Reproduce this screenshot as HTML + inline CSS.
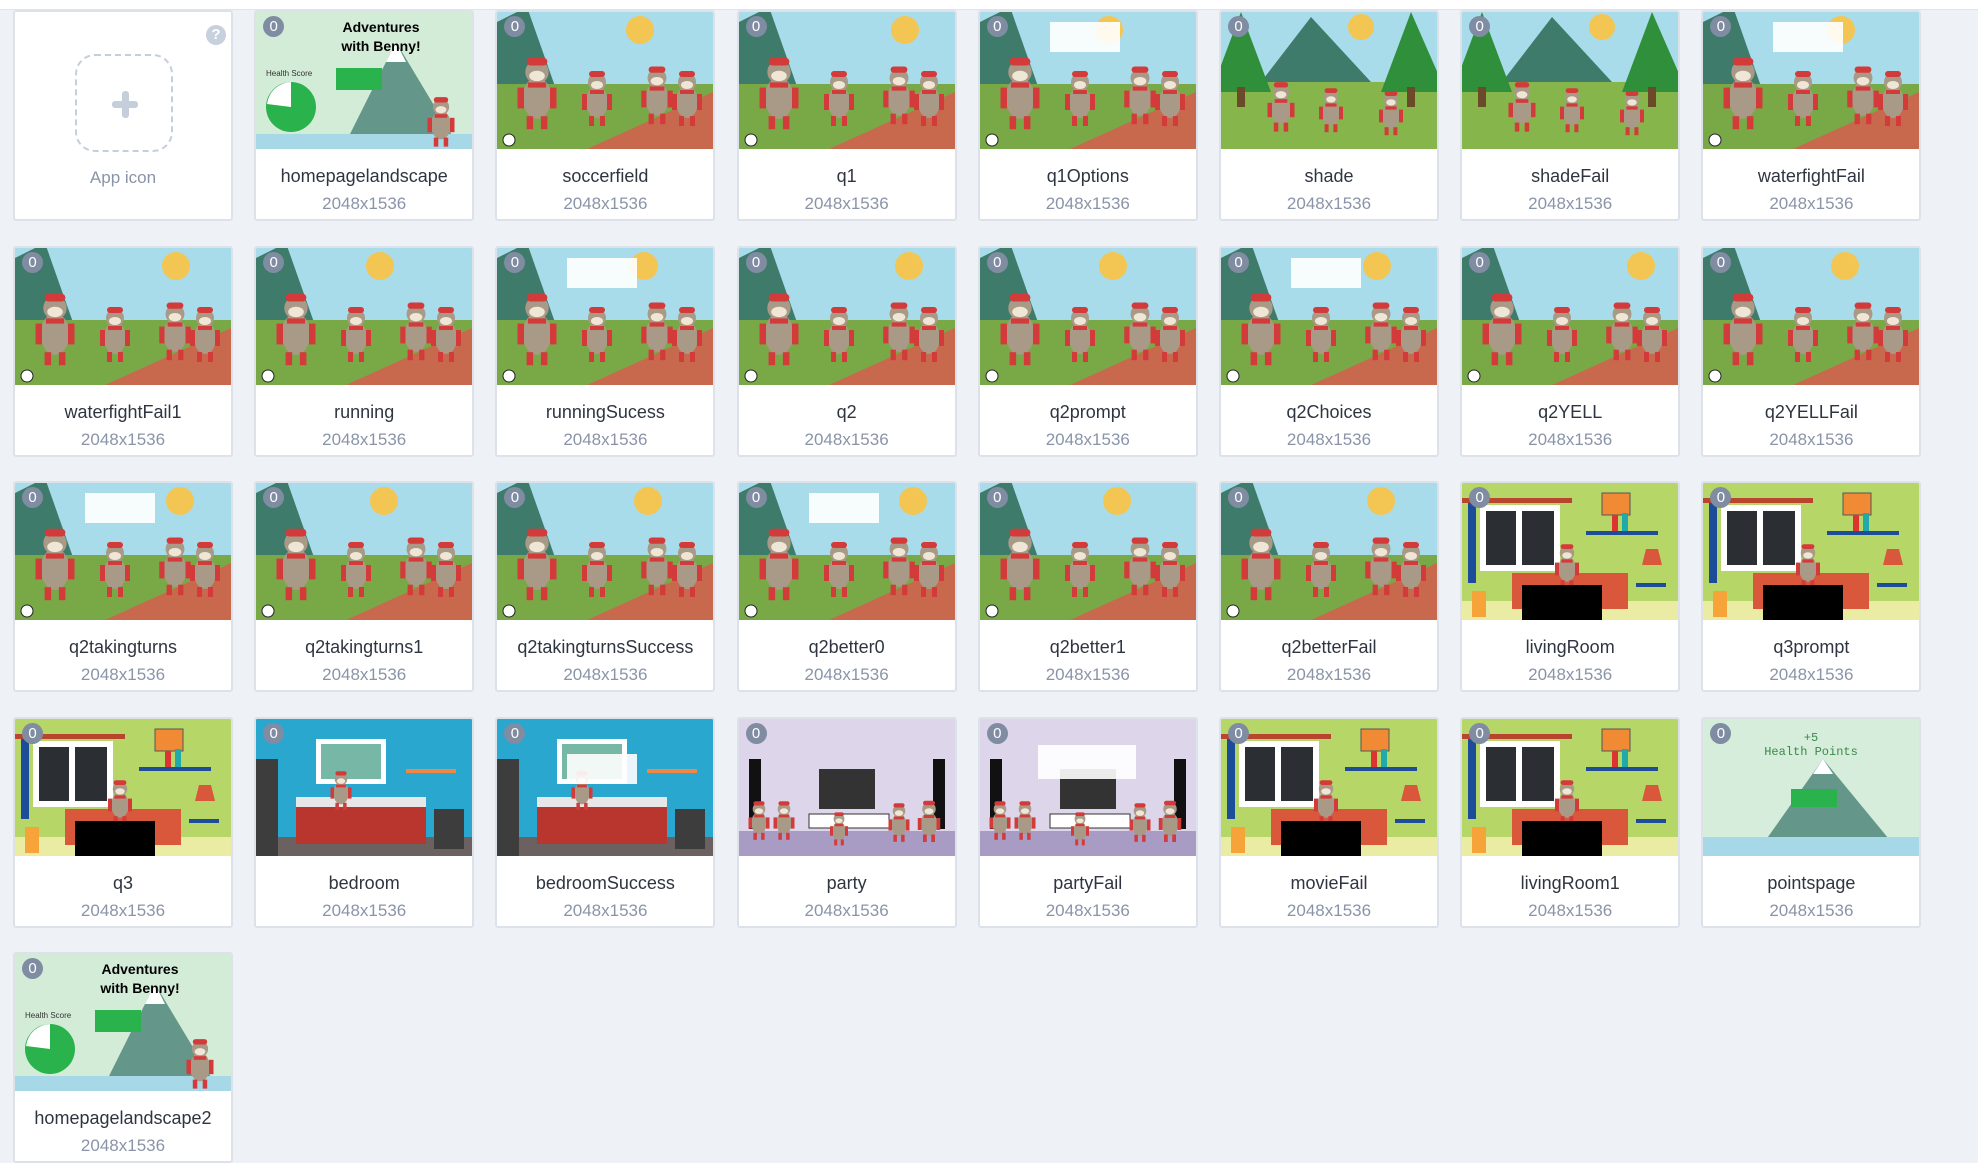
<!DOCTYPE html>
<html><head><meta charset="utf-8">
<style>
*{box-sizing:border-box;margin:0;padding:0}
html,body{width:1978px;height:1142px;overflow:hidden;background:#eef1f6;font-family:"Liberation Sans",sans-serif}
#topbar{position:absolute;left:0;top:0;width:1978px;height:10px;background:#fff;border-bottom:1px solid #dfe3ea}
.card{position:absolute;width:220px;height:211px;background:#fff;border:2px solid #dde2ea;border-radius:3px;overflow:hidden}
.thumb{position:absolute;left:0;top:0;width:216px;height:137px}
.title{position:absolute;left:0;width:216px;top:154px;text-align:center;font-size:18px;color:#2f3540}
.size{position:absolute;left:0;width:216px;top:182px;text-align:center;font-size:17px;color:#8a94a8}
.badge{position:absolute;left:7px;top:4px;width:21px;height:21px;border-radius:50%;background:#7f8ca2;color:#fff;font-size:15px;text-align:center;line-height:21px}
</style></head><body>
<div id="topbar"></div>
<div class="card" style="left:13px;top:10px">
  <div style="position:absolute;left:60px;top:42px;width:98px;height:98px;border:2px dashed #c5cfdc;border-radius:20px">
    <div style="position:absolute;left:35px;top:45px;width:26px;height:7px;background:#c5cfdc;border-radius:3px"></div>
    <div style="position:absolute;left:45px;top:35px;width:7px;height:27px;background:#c5cfdc;border-radius:3px"></div>
  </div>
  <div style="position:absolute;left:0;width:216px;top:156px;text-align:center;font-size:17px;color:#8a94a8">App icon</div>
  <div style="position:absolute;left:191px;top:13px;width:20px;height:20px;border-radius:50%;background:#c7d0dd;color:#fff;font-size:15px;font-weight:bold;text-align:center;line-height:20px">?</div>
</div>
<div id="grid"></div>
<script>
const names=["homepagelandscape","soccerfield","q1","q1Options","shade","shadeFail","waterfightFail",
"waterfightFail1","running","runningSucess","q2","q2prompt","q2Choices","q2YELL","q2YELLFail",
"q2takingturns","q2takingturns1","q2takingturnsSuccess","q2better0","q2better1","q2betterFail","livingRoom","q3prompt",
"q3","bedroom","bedroomSuccess","party","partyFail","movieFail","livingRoom1","pointspage",
"homepagelandscape2"];
const kinds=["home","field","field","field","forest","forest","field",
"field","field","field","field","field","field","field","field",
"field","field","field","field","field","field","room","room",
"room","bed","bed","party","party","room","room","points",
"home"];
const monkey=(x,y,s)=>`<g transform="translate(${x},${y}) scale(${s})"><ellipse cx="0" cy="20" rx="11" ry="16" fill="#a89a86"/><circle cx="0" cy="0" r="9" fill="#a89a86"/><ellipse cx="0" cy="3" rx="6" ry="4" fill="#efe6d6"/><rect x="-8" y="-11" width="16" height="6" rx="3" fill="#d33a3a"/><rect x="-7" y="8" width="14" height="4" fill="#d33a3a"/><rect x="-15" y="12" width="5" height="16" fill="#d33a3a"/><rect x="10" y="12" width="5" height="16" fill="#d33a3a"/><rect x="-8" y="34" width="5" height="10" fill="#d33a3a"/><rect x="3" y="34" width="5" height="10" fill="#d33a3a"/></g>`;
function scene(k,i){
 if(k==="field") return `<rect width="216" height="137" fill="#a9dcea"/><circle cx="${120+(i*23)%60}" cy="18" r="14" fill="#f3c552"/><polygon points="0,80 0,10 30,-5 60,80" fill="#3f7b6a"/><rect y="72" width="216" height="65" fill="#79a947"/><polygon points="90,137 216,80 216,137" fill="#c8694e"/><circle cx="12" cy="128" r="6" fill="#fff" stroke="#222"/>${monkey(40,60,1.3)}${monkey(100,70,1)}${monkey(160,66,1.05)}${monkey(190,70,1)}${i%3==0?'<rect x="70" y="10" width="70" height="30" fill="#fff" opacity="0.9"/>':''}`;
 if(k==="forest") return `<rect width="216" height="137" fill="#a9dcea"/><circle cx="140" cy="15" r="13" fill="#f3c552"/><polygon points="40,70 90,5 150,70" fill="#3f7b6a"/><rect y="70" width="216" height="67" fill="#86b64b"/><polygon points="20,0 50,80 -10,80" fill="#2f8f3a"/><polygon points="190,0 225,80 160,80" fill="#2f8f3a"/><rect x="16" y="75" width="8" height="20" fill="#6b4a2a"/><rect x="186" y="75" width="8" height="20" fill="#6b4a2a"/>${monkey(60,80,0.9)}${monkey(110,85,0.8)}${monkey(170,88,0.8)}`;
 if(k==="room") return `<rect width="216" height="137" fill="#b6d767"/><rect x="0" y="15" width="110" height="5" fill="#b8452e"/><rect x="6" y="20" width="8" height="80" fill="#1d4d99"/><rect x="18" y="22" width="80" height="66" fill="#fff"/><rect x="24" y="28" width="30" height="54" fill="#2b2f33"/><rect x="60" y="28" width="32" height="54" fill="#2b2f33"/><rect x="140" y="10" width="28" height="22" fill="#f18a34" stroke="#555"/><rect x="124" y="48" width="72" height="4" fill="#1d4d99"/><rect x="150" y="32" width="6" height="16" fill="#d33"/><rect x="160" y="30" width="6" height="18" fill="#2aa"/><rect y="118" width="216" height="19" fill="#e9eca2"/><rect x="50" y="90" width="116" height="36" fill="#d9573b"/>${monkey(105,70,0.8)}<rect x="60" y="102" width="80" height="35" fill="#000"/><rect x="10" y="108" width="14" height="26" fill="#f6a33a"/><polygon points="180,82 200,82 196,66 184,66" fill="#d9573b"/><rect x="174" y="100" width="30" height="4" fill="#1d4d99"/>`;
 if(k==="bed") return `<rect width="216" height="137" fill="#2aa7cf"/><rect y="118" width="216" height="19" fill="#6b6160"/><rect x="0" y="40" width="22" height="97" fill="#3d3d3d"/><rect x="60" y="20" width="70" height="45" fill="#fff"/><rect x="65" y="25" width="60" height="35" fill="#76b7a6"/><rect x="40" y="85" width="130" height="40" fill="#b8362d"/><rect x="40" y="78" width="130" height="10" fill="#e7e7e7"/><rect x="178" y="90" width="30" height="40" fill="#3d3d3d"/><rect x="150" y="50" width="50" height="4" fill="#e84"/>${monkey(85,60,0.7)}${i%2? '<rect x="70" y="35" width="70" height="30" fill="#fff" opacity="0.9"/>':''}`;
 if(k==="party") return `<rect width="216" height="137" fill="#ddd6ea"/><rect y="112" width="216" height="25" fill="#a99cc4"/><rect x="10" y="40" width="12" height="70" fill="#111"/><rect x="194" y="40" width="12" height="70" fill="#111"/><rect x="80" y="50" width="56" height="40" fill="#333"/><rect x="70" y="95" width="80" height="14" fill="#fff" stroke="#333"/>${monkey(20,90,0.7)}${monkey(45,90,0.7)}${monkey(100,100,0.6)}${monkey(160,92,0.7)}${monkey(190,90,0.75)}${i%2?'<rect x="58" y="26" width="98" height="34" fill="#fff" opacity="0.9"/>':''}`;
 if(k==="home") return `<rect width="216" height="137" fill="#d3ecd7"/><polygon points="90,130 140,30 200,130" fill="#64968a"/><polygon points="130,50 140,30 150,50" fill="#fff"/><rect y="122" width="216" height="15" fill="#a6d8e8"/><circle cx="35" cy="95" r="25" fill="#2ab24c"/><path d="M35 95 L35 70 A25 25 0 0 0 11 92 Z" fill="#fff"/><rect x="80" y="56" width="46" height="22" fill="#2ab24c"/><text x="125" y="20" font-size="14" font-weight="bold" text-anchor="middle" font-family="Liberation Sans,sans-serif">Adventures</text><text x="125" y="39" font-size="14" font-weight="bold" text-anchor="middle" font-family="Liberation Sans,sans-serif">with Benny!</text><text x="10" y="64" font-size="8" fill="#333" font-family="Liberation Sans,sans-serif">Health Score</text>${monkey(185,95,0.9)}`;
 return `<rect width="216" height="137" fill="#d6eddb"/><polygon points="60,125 120,40 190,125" fill="#64968a"/><polygon points="110,55 120,40 130,55" fill="#fff"/><rect y="118" width="216" height="19" fill="#a6d8e8"/><rect x="88" y="70" width="46" height="18" fill="#2ab24c"/><text x="108" y="22" font-size="12" fill="#3a8a4a" text-anchor="middle" font-family="Liberation Mono,monospace">+5</text><text x="108" y="36" font-size="12" fill="#3a8a4a" text-anchor="middle" font-family="Liberation Mono,monospace">Health Points</text>`;
}
const grid=document.getElementById('grid');
names.forEach((n,j)=>{
 const idx=j+1, col=idx%8, row=Math.floor(idx/8);
 const c=document.createElement('div');
 c.className='card';
 c.style.left=(13+col*241.2)+'px';
 c.style.top=(10+row*235.5)+'px';
 
 
 c.innerHTML=`<svg class="thumb" viewBox="0 0 216 137">${scene(kinds[j],j)}</svg><div class="badge">0</div><div class="title">${n}</div><div class="size">2048x1536</div>`;
 grid.appendChild(c);
});
</script>
</body></html>
